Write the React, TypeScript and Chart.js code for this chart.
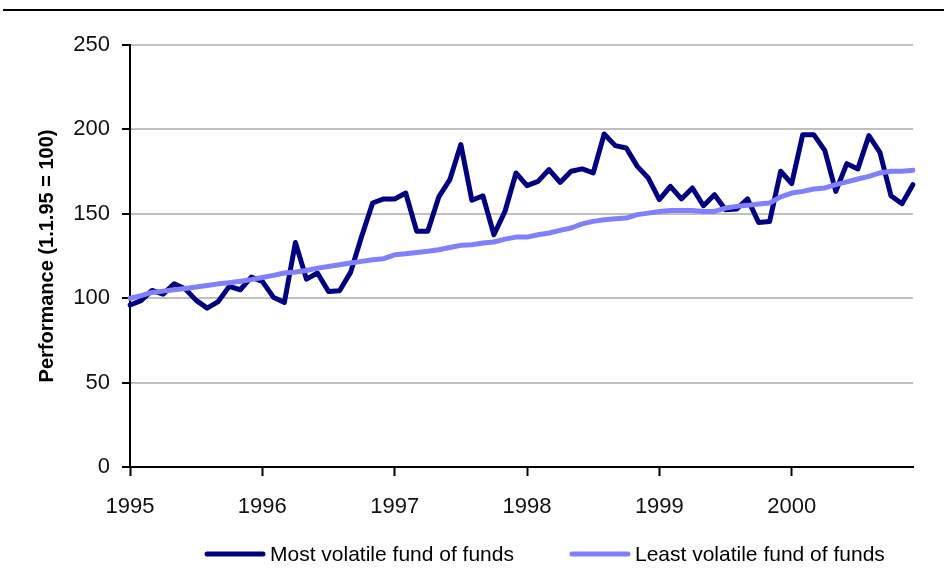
import React, { useEffect, useRef } from "react";
import { Chart, registerables } from "chart.js";

Chart.register(...registerables);

const YEARS = ["1995", "1996", "1997", "1998", "1999", "2000"];
const MONTHS = ["Jan", "Feb", "Mar", "Apr", "May", "Jun", "Jul", "Aug", "Sep", "Oct", "Nov", "Dec"];
const CATEGORIES = YEARS.flatMap((y) => MONTHS.map((m) => `${m} ${y}`));

const MOST_VOLATILE = [
  96, 98.6, 104.6, 102.4, 108.5, 105.6, 98.7, 94.1, 98, 107, 105, 112.5,
  110, 100.6, 97.5, 133, 111.3, 114.9, 104, 104.4, 115.3, 136.6, 156.4, 158.8,
  158.8, 162.3, 139.6, 139.6, 160, 170.2, 191, 158, 160.7, 137.6, 151.4, 174.2,
  166.7, 169.2, 176.2, 168.6, 175.2, 176.6, 174.2, 197.3, 190.4, 189, 178.1, 171.2,
  158.4, 166.3, 158.8, 165.3, 154.8, 161.3, 152.4, 152.8, 158.8, 144.9, 145.5, 175.2,
  167.9, 196.9, 196.9, 187.6, 163.3, 179.7, 176.6, 196.3, 186.4, 160.7, 156, 167.3,
];

const LEAST_VOLATILE = [
  100, 101.5, 103.4, 104.2, 105, 105.8, 106.6, 107.5, 108.5, 109.2, 110, 111,
  112.3, 113.5, 114.9, 115.5, 116.4, 117.8, 118.8, 119.8, 120.8, 121.8, 122.8, 123.4,
  125.7, 126.3, 127.1, 127.8, 128.7, 130, 131.3, 131.7, 132.7, 133.3, 135, 136.2,
  136.2, 137.6, 138.6, 140.2, 141.6, 144, 145.5, 146.5, 147.1, 147.5, 149.5, 150.4,
  151.4, 152, 152, 152, 151.4, 151.4, 153.4, 154.4, 155, 155.8, 156.4, 160,
  162.3, 163.3, 164.7, 165.3, 167.3, 168.9, 170.6, 172.2, 174.2, 175.2, 175.2, 175.8,
];

const SERIES_LABELS = ["Most volatile fund of funds", "Least volatile fund of funds"];
const Y_TICKS = [0, 50, 100, 150, 200, 250];
const Y_TITLE = "Performance (1.1.95 = 100)";

const FONT = '"Liberation Sans", Arial, sans-serif';

const topRulePlugin = {
  id: "topRule",
  beforeDraw(chart: any) {
    const ctx = chart.ctx;
    ctx.save();
    ctx.strokeStyle = "#000";
    ctx.lineWidth = 2;
    ctx.beginPath();
    ctx.moveTo(3, 10);
    ctx.lineTo(chart.width, 10);
    ctx.stroke();
    ctx.restore();
  },
};

const legendPlugin = {
  id: "customLegend",
  afterDraw(chart: any) {
    const ctx = chart.ctx;
    ctx.save();
    ctx.font = `21px ${FONT}`;
    ctx.textBaseline = "middle";
    ctx.textAlign = "left";
    const y = 554;
    let x = 207;
    chart.data.datasets.forEach((ds: any) => {
      ctx.strokeStyle = ds.borderColor;
      ctx.lineWidth = 5;
      ctx.lineCap = "round";
      ctx.beginPath();
      ctx.moveTo(x, y);
      ctx.lineTo(x + 56, y);
      ctx.stroke();
      ctx.fillStyle = "#000";
      ctx.fillText(ds.label, x + 63, y + 1);
      x += 63 + ctx.measureText(ds.label).width + 58;
    });
    ctx.restore();
  },
};

export default function App() {
  const ref = useRef<HTMLCanvasElement | null>(null);

  useEffect(() => {
    if (!ref.current) return;
    const chart = new Chart(ref.current, {
      type: "line",
      data: {
        labels: CATEGORIES,
        datasets: [
          {
            label: SERIES_LABELS[0],
            data: MOST_VOLATILE,
            borderColor: "#000080",
            backgroundColor: "#000080",
            borderWidth: 5,
            pointRadius: 0,
            tension: 0,
            borderJoinStyle: "round",
            borderCapStyle: "round",
            order: 1,
          },
          {
            label: SERIES_LABELS[1],
            data: LEAST_VOLATILE,
            borderColor: "#8080FF",
            backgroundColor: "#8080FF",
            borderWidth: 5,
            pointRadius: 0,
            tension: 0,
            borderJoinStyle: "round",
            borderCapStyle: "round",
            order: 0,
          },
        ],
      },
      options: {
        responsive: false,
        animation: false,
        layout: { padding: { left: 0, right: 31, top: 45, bottom: 0 } },
        plugins: {
          legend: { display: false },
          tooltip: { enabled: false },
        },
        scales: {
          x: {
            type: "category",
            offset: false,
            border: { display: true, color: "#000", width: 2 },
            grid: {
              display: true,
              drawOnChartArea: false,
              drawTicks: true,
              tickLength: 9,
              tickWidth: 2,
              tickColor: (c: any) => (c.index % 12 === 0 ? "#000" : "rgba(0,0,0,0)"),
            },
            ticks: {
              autoSkip: false,
              maxRotation: 0,
              minRotation: 0,
              padding: 18,
              color: "#111",
              font: { family: FONT, size: 22 },
              callback: (_v: any, i: number) => (i % 12 === 0 ? YEARS[i / 12] : ""),
            },
            afterFit: (s: any) => {
              s.height = 115;
            },
          },
          y: {
            min: 0,
            max: 250,
            afterBuildTicks: (s: any) => {
              s.ticks = Y_TICKS.map((v) => ({ value: v }));
            },
            border: { display: true, color: "#000", width: 2 },
            grid: {
              color: "#c0c0c0",
              lineWidth: 2,
              tickLength: 8,
              tickWidth: 2,
              tickColor: "#000",
            },
            ticks: {
              padding: 12,
              color: "#111",
              font: { family: FONT, size: 22 },
            },
            title: {
              display: true,
              text: Y_TITLE,
              color: "#000",
              font: { family: FONT, size: 20, weight: "bold" },
              padding: { top: 35, bottom: 0 },
            },
            afterFit: (s: any) => {
              s.width = 130;
            },
          },
        },
      },
      plugins: [topRulePlugin, legendPlugin],
    });
    return () => chart.destroy();
  }, []);

  return (
    <div style={{ position: "absolute", left: 0, top: 0, width: 944, height: 582, background: "#fff" }}>
      <canvas ref={ref} width={944} height={582} />
    </div>
  );
}
